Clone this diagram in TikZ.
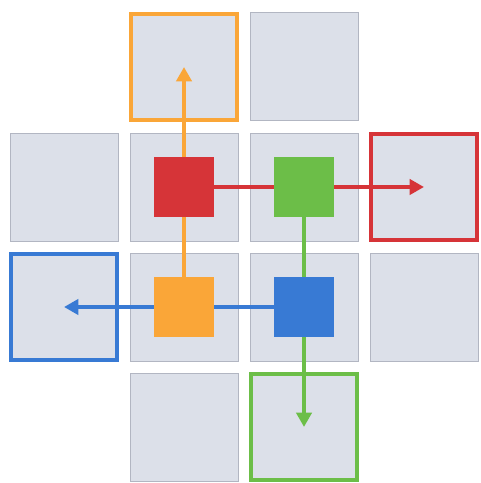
\documentclass[tikz,border=0pt]{standalone}
\usetikzlibrary{arrows.meta}

\definecolor{tilegray}{RGB}{220,224,233}
\definecolor{tileedge}{RGB}{178,182,194}
\definecolor{myred}{RGB}{214,52,56}
\definecolor{mygreen}{RGB}{108,190,72}
\definecolor{myorange}{RGB}{250,166,56}
\definecolor{myblue}{RGB}{56,122,212}

\begin{document}
\begin{tikzpicture}[
  tile/.style={draw=tileedge, fill=tilegray, line width=0.7pt, minimum size=2.7cm, inner sep=0pt},
  target/.style={tile, draw=#1, line width=3pt, minimum size=2.65cm},
  piece/.style={fill=#1, minimum size=1.5cm, inner sep=0pt},
  arr/.style={-{Triangle[length=3.6mm, width=3.8mm]}, line width=2.6pt, draw=#1}
]
  \useasboundingbox (0,0) rectangle (12,12.075);

  % plain tiles
  \node[tile] (t02) at (7.6,10.4) {};
  \node[tile] (t10) at (1.6,7.4) {};
  \node[tile] (t11) at (4.6,7.4) {};
  \node[tile] (t12) at (7.6,7.4) {};
  \node[tile] (t21) at (4.6,4.4) {};
  \node[tile] (t22) at (7.6,4.4) {};
  \node[tile] (t23) at (10.6,4.4) {};
  \node[tile] (t31) at (4.6,1.4) {};

  % target tiles
  \node[target=myorange] (t01) at (4.6,10.4) {};
  \node[target=myred] (t13) at (10.6,7.4) {};
  \node[target=myblue] (t20) at (1.6,4.4) {};
  \node[target=mygreen] (t32) at (7.6,1.4) {};

  % moves
  \draw[arr=myred] (t11.center) -- (t13.center);
  \draw[arr=myorange] (t21.center) -- (t01.center);
  \draw[arr=mygreen] (t12.center) -- (t32.center);
  \draw[arr=myblue] (t22.center) -- (t20.center);

  % pieces
  \node[piece=myred] (red) at (t11) {};
  \node[piece=mygreen] (green) at (t12) {};
  \node[piece=myorange] (orange) at (t21) {};
  \node[piece=myblue] (blue) at (t22) {};
\end{tikzpicture}
\end{document}
